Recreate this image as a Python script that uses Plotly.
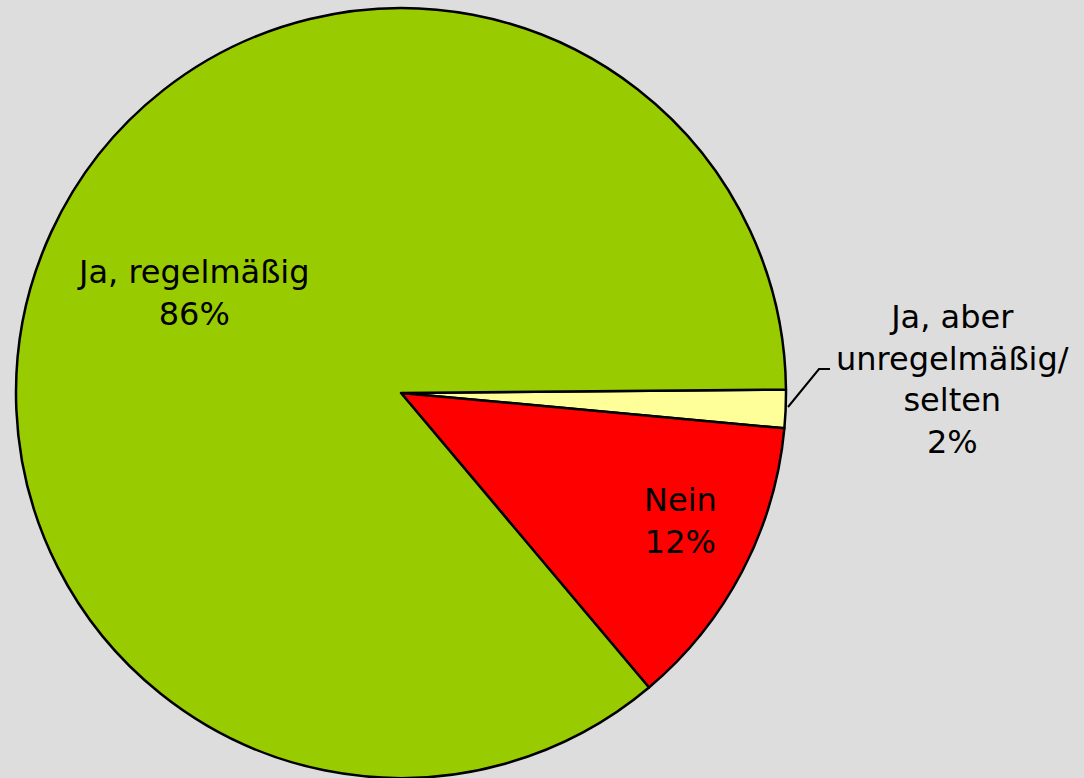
import plotly.graph_objects as go

W, H = 1084, 778

# Data (clockwise order, starting just above 3 o'clock)
labels = ["Ja, aber<br>unregelmäßig/<br>selten", "Nein", "Ja, regelmäßig"]
values = [1.6, 12.4, 86.0]
colors = ["#FFFF99", "#FF0000", "#99CC00"]
# label positions (pixels) for each slice's text
label_px = [(952, 379), (680, 521), (193, 293)]

total = sum(values)
pcts = [f"{round(v / total * 100)}%" for v in values]

cx, cy, r = 401, 393, 385

fig = go.Figure(go.Pie(
    labels=labels,
    values=values,
    sort=False,
    direction="clockwise",
    rotation=89.5,
    marker=dict(colors=colors, line=dict(color="black", width=2.5)),
    textinfo="none",
    hoverinfo="label+percent",
    showlegend=False,
    domain=dict(x=[(cx - r) / W, (cx + r) / W], y=[(H - cy - r) / H, (H - cy + r) / H]),
))

font = dict(family="DejaVu Sans", size=32, color="black")
for lab, pct, (px, py) in zip(labels, pcts, label_px):
    fig.add_annotation(
        x=px / W, y=1 - py / H, xref="paper", yref="paper",
        text=f"{lab}<br>{pct}", showarrow=False, font=font,
        xanchor="center", yanchor="middle", align="center",
    )

# leader line for small slice
fig.add_shape(
    type="path", xref="paper", yref="paper",
    path=f"M {788 / W} {1 - 407 / H} L {819 / W} {1 - 369 / H} L {830 / W} {1 - 369 / H}",
    line=dict(color="black", width=2),
)

fig.update_layout(
    width=W, height=H,
    margin=dict(l=0, r=0, t=0, b=0),
    paper_bgcolor="#DDDDDD",
    plot_bgcolor="#DDDDDD",
)

fig.write_html(
    "out.html",
    config={"displayModeBar": False},
    post_script="document.body.style.margin='0';document.body.style.overflow='hidden';",
)
